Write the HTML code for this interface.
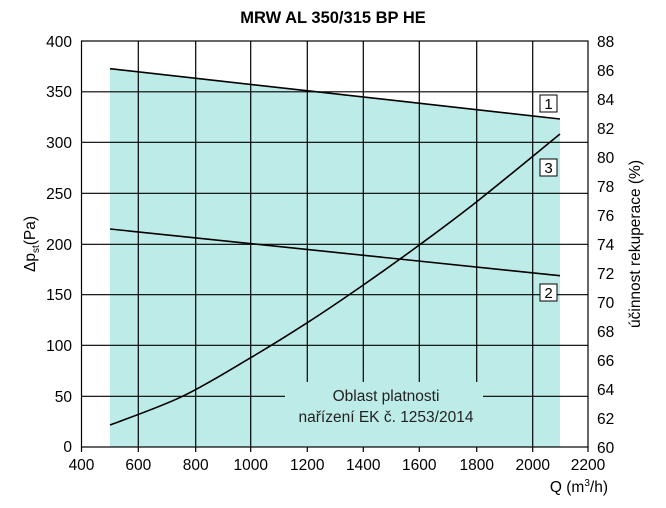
<!DOCTYPE html>
<html><head><meta charset="utf-8"><style>
html,body{margin:0;padding:0;background:#fff;}
svg{display:block;font-family:"Liberation Sans",Arial,sans-serif;}
</style></head><body>
<svg width="666" height="508" viewBox="0 0 666 508">
<polygon points="110,68.7 560,119 560,447 110,447" fill="#bdece8"/>
<g stroke="#000" stroke-width="1.2">
<line x1="138.3" y1="41" x2="138.3" y2="447"/>
<line x1="195.7" y1="41" x2="195.7" y2="447"/>
<line x1="250.7" y1="41" x2="250.7" y2="447"/>
<line x1="307.3" y1="41" x2="307.3" y2="382"/>
<line x1="363.3" y1="41" x2="363.3" y2="382"/>
<line x1="419.3" y1="41" x2="419.3" y2="382"/>
<line x1="476.7" y1="41" x2="476.7" y2="382"/>
<line x1="532.7" y1="41" x2="532.7" y2="447"/>
<line x1="81.5" y1="91.8" x2="588" y2="91.8"/>
<line x1="81.5" y1="142.3" x2="588" y2="142.3"/>
<line x1="81.5" y1="193.3" x2="588" y2="193.3"/>
<line x1="81.5" y1="244.3" x2="588" y2="244.3"/>
<line x1="81.5" y1="294.7" x2="588" y2="294.7"/>
<line x1="81.5" y1="345.3" x2="588" y2="345.3"/>
<line x1="81.5" y1="396.3" x2="285" y2="396.3"/>
<line x1="483" y1="396.3" x2="588" y2="396.3"/>
<rect x="81.5" y="41" width="506.5" height="406" fill="none"/>
</g>
<g stroke="#000" stroke-width="1.2">
<line x1="81.5" y1="447" x2="81.5" y2="452"/><line x1="138.3" y1="447" x2="138.3" y2="452"/><line x1="195.7" y1="447" x2="195.7" y2="452"/><line x1="250.7" y1="447" x2="250.7" y2="452"/><line x1="307.3" y1="447" x2="307.3" y2="452"/><line x1="363.3" y1="447" x2="363.3" y2="452"/><line x1="419.3" y1="447" x2="419.3" y2="452"/><line x1="476.7" y1="447" x2="476.7" y2="452"/><line x1="532.7" y1="447" x2="532.7" y2="452"/><line x1="588" y1="447" x2="588" y2="452"/>
</g>
<g fill="none" stroke="#000" stroke-width="1.6">
<polyline points="110,68.7 560,119"/>
<polyline points="110,229 560,275.7"/>
<path d="M110,425 C122,420.3 158.2,407.9 181.7,396.7 C205.2,385.5 229.8,370 250.7,357.7 C271.6,345.4 288.5,334.8 307.3,322.7 C326.1,310.6 344.6,298 363.3,285 C382,272 400.4,258.9 419.3,245 C438.2,231.1 453.2,220.2 476.7,201.7 C500.2,183.2 546.1,145.3 560,134"/>
</g>
<g fill="#fff" stroke="#000" stroke-width="1">
<rect x="540" y="95" width="17" height="17"/>
<rect x="540" y="159" width="17" height="17"/>
<rect x="540" y="284" width="17" height="17"/>
</g>
<g font-size="15" text-anchor="middle" fill="#000">
<text x="548.5" y="109">1</text><text x="548.5" y="173">3</text><text x="548.5" y="298">2</text>
</g>
<text x="386" y="401" font-size="15.5" text-anchor="middle" fill="#222">Oblast platnosti</text>
<text x="386" y="422" font-size="15.5" text-anchor="middle" fill="#222">nařízení EK č. 1253/2014</text>
<text x="333" y="23" font-size="16.5" font-weight="bold" text-anchor="middle">MRW AL 350/315 BP HE</text>
<g font-size="15.5" text-anchor="end">
<text x="72" y="47">400</text><text x="72" y="97">350</text><text x="72" y="148">300</text><text x="72" y="199">250</text><text x="72" y="250">200</text><text x="72" y="300">150</text><text x="72" y="351">100</text><text x="72" y="402">50</text><text x="72" y="452">0</text>
</g>
<g font-size="15.5" text-anchor="start">
<text x="597" y="47">88</text><text x="597" y="76">86</text><text x="597" y="105">84</text><text x="597" y="134">82</text><text x="597" y="163">80</text><text x="597" y="192">78</text><text x="597" y="221">76</text><text x="597" y="250">74</text><text x="597" y="279">72</text><text x="597" y="308">70</text><text x="597" y="337">68</text><text x="597" y="366">66</text><text x="597" y="395">64</text><text x="597" y="424">62</text><text x="597" y="453">60</text>
</g>
<g font-size="15.5" text-anchor="middle">
<text x="81.5" y="470">400</text><text x="138.3" y="470">600</text><text x="195.7" y="470">800</text><text x="250.7" y="470">1000</text><text x="307.3" y="470">1200</text><text x="363.3" y="470">1400</text><text x="419.3" y="470">1600</text><text x="476.7" y="470">1800</text><text x="532.7" y="470">2000</text><text x="588" y="470">2200</text>
</g>
<text x="608" y="492" font-size="15.5" text-anchor="end">Q (m<tspan font-size="10" dy="-6">3</tspan><tspan dy="6">/h)</tspan></text>
<text transform="translate(35,244) rotate(-90)" font-size="15.5" text-anchor="middle">Δp<tspan font-size="10" dy="4">st</tspan><tspan dy="-4">(Pa)</tspan></text>
<text transform="translate(640,244) rotate(-90)" font-size="15.5" text-anchor="middle">účinnost rekuperace (%)</text>
</svg>
</body></html>
